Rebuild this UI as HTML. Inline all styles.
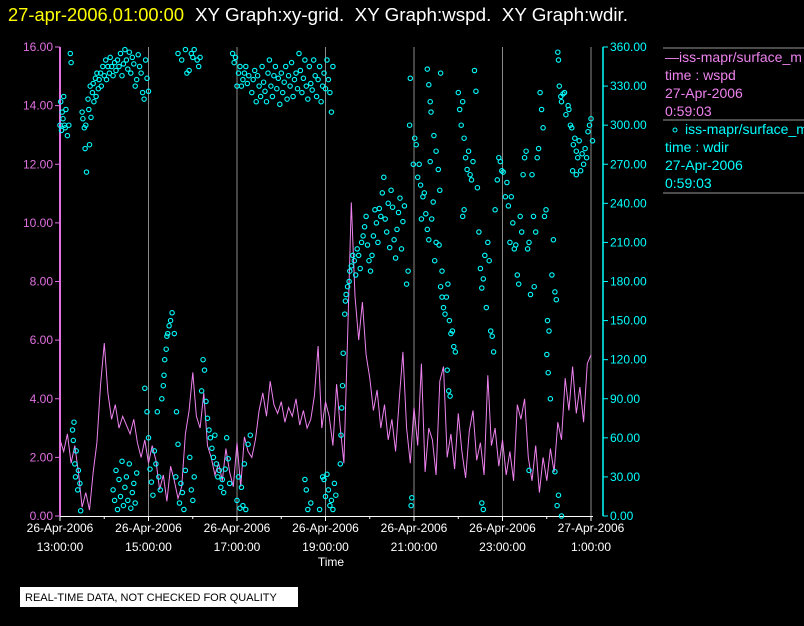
<!DOCTYPE html>
<html><head><meta charset="utf-8"><style>
body{margin:0;background:#000;width:804px;height:626px;overflow:hidden;font-family:"Liberation Sans",sans-serif}
svg{display:block}
</style></head><body>
<svg id="chart" width="804" height="626" font-family="Liberation Sans, sans-serif">
<text x="8" y="21" font-size="18" fill="#ffff00" textLength="176" lengthAdjust="spacingAndGlyphs">27-apr-2006,01:00:00</text>
<text x="195" y="21" font-size="18" fill="#fff" xml:space="preserve" textLength="433" lengthAdjust="spacingAndGlyphs" style="white-space:pre">XY Graph:xy-grid.  XY Graph:wspd.  XY Graph:wdir.</text>
<g id="grid"></g><g id="axes"></g><g id="series"></g>
<text x="331" y="566" font-size="12" fill="#fff" text-anchor="middle">Time</text>
<rect x="20" y="587" width="278" height="20" fill="#fff"/>
<text x="25" y="601" font-size="11" fill="#000">REAL-TIME DATA, NOT CHECKED FOR QUALITY</text>
<g>
<line x1="663" y1="48" x2="804" y2="48" stroke="#999"/>
<text x="665" y="62" font-size="14" fill="#ee82ee">—iss-mapr/surface_m</text>
<text x="665" y="80" font-size="14" fill="#ee82ee">time : wspd</text>
<text x="665" y="98" font-size="14" fill="#ee82ee">27-Apr-2006</text>
<text x="665" y="116" font-size="14" fill="#ee82ee">0:59:03</text>
<line x1="663" y1="120" x2="804" y2="120" stroke="#999"/>
<circle cx="675" cy="130" r="2" fill="none" stroke="#00ffff"/>
<text x="685" y="134" font-size="14" fill="#00ffff">iss-mapr/surface_m</text>
<text x="665" y="152" font-size="14" fill="#00ffff">time : wdir</text>
<text x="665" y="170" font-size="14" fill="#00ffff">27-Apr-2006</text>
<text x="665" y="188" font-size="14" fill="#00ffff">0:59:03</text>
<line x1="663" y1="193" x2="804" y2="193" stroke="#999"/>
</g>
</svg>
<script>
const xTickHours=[0,2,4,6,8,10,12];
const xTickDates=["26-Apr-2006","26-Apr-2006","26-Apr-2006","26-Apr-2006","26-Apr-2006","26-Apr-2006","27-Apr-2006"];
const xTickTimes=["13:00:00","15:00:00","17:00:00","19:00:00","21:00:00","23:00:00","1:00:00"];
const leftTicks=[0,2,4,6,8,10,12,14,16];
const rightTicks=[0,30,60,90,120,150,180,210,240,270,300,330,360];
const wspdStep=5;
const wspd=[2.6,2.2,2.8,1.8,2.4,1.5,0.3,0.8,0.2,1.5,2.5,4.5,5.9,4.2,3.3,3.8,3.0,3.4,3.1,2.8,3.3,2.5,2.0,2.6,1.8,2.4,1.9,0.9,1.4,0.5,1.7,1.2,0.6,1.0,2.8,3.6,4.9,3.4,3.0,4.2,2.4,2.0,1.4,1.8,1.2,2.3,1.5,1.0,2.5,1.0,2.7,2.2,2.0,2.6,
3.6,4.2,3.4,4.6,3.8,3.5,3.9,3.2,3.7,3.4,4.0,3.1,3.6,3.0,3.3,4.1,5.8,3.0,3.9,3.4,2.4,4.5,3.0,1.8,6.1,10.7,7.5,6.0,7.3,5.5,4.7,3.6,4.3,3.0,3.8,2.6,3.3,2.2,4.0,5.6,3.0,1.8,3.7,2.4,5.2,1.5,3.0,2.6,1.4,4.6,5.1,2.0,2.8,1.6,3.5,2.2,1.3,2.9,3.6,1.9,2.5,1.4,4.8,2.4,3.0,1.7,2.6,1.4,2.2,1.2,3.8,3.3,4.0,2.0,1.2,2.4,0.8,2.0,1.2,2.3,1.5,3.2,2.6,4.7,3.6,5.1,3.5,4.4,3.2,5.2,5.5];
const wdirObs=[[0,300],[1,318],[2,296],[3,310],[4,305],[5,322],[6,300],[7,298],[8,312],[10,292],[12,300],[14,355],[15,348],[17,66],[18,58],[19,72],[20,40],[21,30],[22,50],[24,20],[25,35],[27,25],[28,4],
[30,310],[31,305],[33,298],[34,282],[35,300],[36,264],[38,320],[39,312],[40,285],[41,330],[42,306],[44,325],[45,332],[46,318],[48,336],[49,322],[50,340],[52,328],[53,335],[55,340],[56,330],
[58,345],[60,338],[62,350],[63,335],[65,345],[67,340],[68,352],[70,345],[72,338],[74,348],[76,342],[78,350],[80,345],[82,355],[84,338],[86,347],[88,358],[90,350],[92,343],[94,356],[96,340],[98,352],[100,347],[102,330],[104,335],[106,354],[108,345],
[72,20],[74,12],[76,35],[78,5],[80,28],[82,15],[84,42],[86,8],[88,22],[90,30],[92,12],[94,40],[96,6],[98,18],[100,25],[102,10],[104,33],
[110,340],[112,325],[114,320],[116,350],[118,336],[120,326],[115,98],[118,80],[120,60],[122,36],[124,26],[126,16],[128,50],[130,40],[132,80],[134,30],[136,20],[138,90],[140,100],[141,108],
[142,120],[144,128],[145,138],[146,140],[148,146],[150,150],[152,156],[155,140],
[157,30],[158,80],[160,55],[162,10],[164,25],[166,18],[168,5],[170,35],[160,355],[165,350],[170,358],[172,340],[175,342],[178,355],[180,352],[182,358],[176,45],[178,20],[180,12],[182,30],
[186,350],[188,345],[190,352],[192,96],[194,120],[196,112],[198,88],[200,75],[202,66],[204,60],[206,52],[208,45],[210,62],[212,40],[214,30],[216,35],[218,22],[220,28],[222,18],[224,36],[226,60],[228,44],[230,25],
[234,355],[236,348],[238,352],[240,330],[242,340],[244,345],[246,330],[248,335],[250,340],[252,345],[254,332],[256,338],[240,12],[242,30],[244,6],[246,22],[248,8],[250,40],[252,5],[255,55],[258,62],
[260,325],[262,335],[264,342],[266,318],[268,338],[270,330],[272,322],[274,345],[276,333],[278,326],[280,318],[282,340],[284,350],[286,330],[288,322],[290,338],[292,345],[294,328],[296,336],[298,316],[300,340],[302,325],[304,333],[306,345],[308,320],[310,338],[312,330],[314,348],[316,322],[318,335],[320,340],[322,328],[324,355],[326,342],[328,325],[330,336],[332,350],[334,330],[336,320],[338,345],[340,332],[342,327],[344,350],[346,338],[348,322],[350,335],[352,345],[354,318],[356,330],[358,340],[360,328],[362,350],[364,335],[366,325],[368,310],[370,345],
[332,28],[334,20],[336,5],[340,10],[352,5],[356,30],[358,28],[360,15],[362,32],[364,20],[366,8],[368,12],[370,5],[372,25],[374,16],
[380,40],[381,62],[382,83],[383,100],[384,125],[386,155],[387,165],[388,170],[390,176],[392,180],[393,188],[395,192],[397,200],[399,196],[401,185],[403,205],[405,200],[407,190],[409,210],[411,215],[413,222],[415,230],[417,208],[419,196],[421,188],[423,200],[425,215],[427,235],[429,225],[431,210],[433,236],[435,230],[437,248],[439,260],[441,228],[443,218],[445,240],[447,206],[449,250],[451,237],[453,212],[455,198],[457,220],[459,233],[461,244],[463,205],[465,226],[467,238],[470,178],[472,188],[474,300],[475,336],[476,8],[477,14],
[479,270],[481,290],[483,285],[485,260],[487,270],[489,254],[490,228],[492,245],[494,248],[496,232],[498,220],[500,212],[502,272],[504,228],[506,241],[508,196],[510,210],[498,343],[500,331],[502,318],[503,310],[507,292],[510,280],[513,266],[515,250],[516,340],
[514,208],[516,176],[518,168],[520,160],[522,155],[524,168],[526,178],[528,150],[530,140],[532,142],[534,130],[536,126],[525,112],[527,96],[529,92],[518,188],
[540,325],[542,312],[544,300],[546,318],[548,290],[550,275],[552,266],[554,280],[556,262],[558,258],[560,272],[562,342],[564,326],[546,230],[548,235],
[566,252],[568,218],[570,190],[572,175],[574,182],[576,200],[578,160],[580,210],[582,196],[584,142],[586,138],[588,126],[590,235],[572,10],[574,5],
[593,258],[595,275],[597,272],[599,265],[601,264],[604,245],[606,256],[608,238],[610,210],[612,245],[614,225],[616,205],[618,208],[620,185],[622,178],[624,230],[626,218],[628,262],[630,275],[632,280],[634,205],[636,210],[638,170],[640,262],[642,230],[636,35],
[643,176],[645,218],[647,275],[649,282],[651,325],[653,312],[655,298],[657,230],[659,235],[661,150],[663,142],[665,90],[667,185],[669,212],[671,172],[673,166],[660,124],[662,110],
[675,356],[676,350],[677,330],[679,322],[680,318],[682,324],[684,325],[686,308],[671,34],[674,8],[676,16],[680,0],
[689,315],[690,312],[692,300],[694,298],[696,285],[698,290],[700,280],[702,275],[704,288],[706,265],[708,278],[710,270],[712,282],[714,275],[716,295],[718,300],[720,305],[722,288],[695,265],[700,262]];

const X0=60,X1=591,YT=47,YB=516;
const xOfMin=m=>X0+(m/720)*(X1-X0);
const yL=v=>YB-(v/16)*(YB-YT);
const yR=v=>YB-(v/360)*(YB-YT);
const NS="http://www.w3.org/2000/svg";
function mk(tag,attrs,parent,txt){const e=document.createElementNS(NS,tag);for(const k in attrs)e.setAttribute(k,attrs[k]);if(txt!==undefined)e.textContent=txt;parent.appendChild(e);return e;}
const grid=document.getElementById('grid'),axes=document.getElementById('axes'),series=document.getElementById('series');

xTickHours.forEach((h,i)=>{
  const x=xOfMin(h*60);
  if(i>0){const g=mk('line',{x1:x,y1:YT,x2:x,y2:YB,stroke:'#8a8a8a','stroke-width':1},grid);
  
  }
  const t1=mk('text',{x:x,y:532,'font-size':12,fill:'#fff','text-anchor':'middle'},axes,xTickDates[i]);
  
  
  const t2=mk('text',{x:x,y:551,'font-size':12,fill:'#fff','text-anchor':'middle'},axes,xTickTimes[i]);
  
  
});
for(let h=0;h<=12;h++){const x=xOfMin(h*60);mk('line',{x1:x,y1:YB,x2:x,y2:YB+(h%2?3:5),stroke:'#fff'},axes);}
const xa=mk('line',{x1:X0,y1:YB+0.5,x2:X1+2,y2:YB+0.5,stroke:'#fff'},axes);


const la=mk('line',{x1:X0,y1:YT,x2:X0,y2:YB,stroke:'#e070e0','stroke-width':2},axes);


leftTicks.forEach(v=>{const y=yL(v);mk('line',{x1:X0-5,y1:y,x2:X0,y2:y,stroke:'#e070e0'},axes);
  const t=mk('text',{x:X0-7,y:y+4,'font-size':12,fill:'#e070e0','text-anchor':'end'},axes,v.toFixed(2));
  
  });
const RA=603;
const ra=mk('line',{x1:RA,y1:YT,x2:RA,y2:YB,stroke:'#00ffff','stroke-width':1.5},axes);


rightTicks.forEach(v=>{const y=yR(v);mk('line',{x1:RA,y1:y,x2:RA+5,y2:y,stroke:'#00ffff'},axes);
  const t=mk('text',{x:RA+7,y:y+4,'font-size':12,fill:'#00ffff'},axes,v.toFixed(2));
  
  });

const pts=wspd.map((v,i)=>xOfMin(i*wspdStep).toFixed(1)+','+yL(v).toFixed(1)).join(' ');
const pl=mk('polyline',{points:pts,fill:'none',stroke:'#ee82ee','stroke-width':1},series);


wdirObs.forEach(p=>{
  const c=mk('circle',{cx:xOfMin(p[0]).toFixed(1),cy:yR(p[1]).toFixed(1),r:2.2,fill:'none',stroke:'#00ffff','stroke-width':1.1},series);
  
  
});
</script>
</body></html>
